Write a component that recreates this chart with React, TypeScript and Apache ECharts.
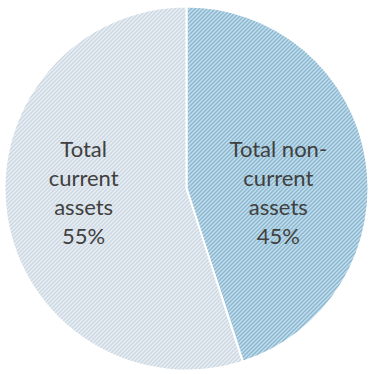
import React, { useEffect, useRef } from "react";
import * as echarts from "echarts";

const categories = ["Total non-\ncurrent\nassets", "Total\ncurrent\nassets"];
const values = [45, 55];
const labelOffsets: [number, number][] = [[-1, 18], [-10, -11]];

function stripeTile(bg: string, fg: string): string {
  const svg = `<svg xmlns="http://www.w3.org/2000/svg" width="4" height="4"><rect width="4" height="4" fill="${bg}"/><path d="M-1,5 L5,-1 M-1,1 L1,-1 M3,5 L5,3" stroke="${fg}" stroke-width="1.4"/></svg>`;
  return "data:image/svg+xml;charset=utf-8," + encodeURIComponent(svg);
}

const sliceStyles = [
  { bg: "#c3deec", fg: "#8ab6cf" },
  { bg: "#e9eff4", fg: "#cbd7e1" },
];

export default function App() {
  const ref = useRef<HTMLDivElement>(null);
  useEffect(() => {
    if (!ref.current) return;
    const chart = echarts.init(ref.current, undefined, { renderer: "svg" });
    chart.setOption({
      animation: false,
      series: [
        {
          type: "pie",
          center: [186.5, 188.5],
          radius: 182,
          startAngle: 90,
          clockwise: true,
          avoidLabelOverlap: false,
          label: {
            show: true,
            position: "inside",
            formatter: (p: any) => `${p.name}\n${p.value}%`,
            fontFamily: "Lato",
            fontSize: 22,
            lineHeight: 29,
            color: "#404040",
            align: "center",
          },
          labelLine: { show: false },
          emphasis: { disabled: true },
          data: categories.map((name, i) => ({
            name,
            value: values[i],
            label: { offset: labelOffsets[i] },
            itemStyle: {
              color: {
                image: stripeTile(sliceStyles[i].bg, sliceStyles[i].fg),
                repeat: "repeat",
                imageWidth: 4,
                imageHeight: 4,
              },
              borderColor: "#ffffff",
              borderWidth: 2,
            },
          })),
        },
      ],
    });
    return () => chart.dispose();
  }, []);
  return (
    <div
      ref={ref}
      style={{ position: "fixed", left: 0, top: 0, width: 370, height: 374, background: "#ffffff" }}
    />
  );
}
